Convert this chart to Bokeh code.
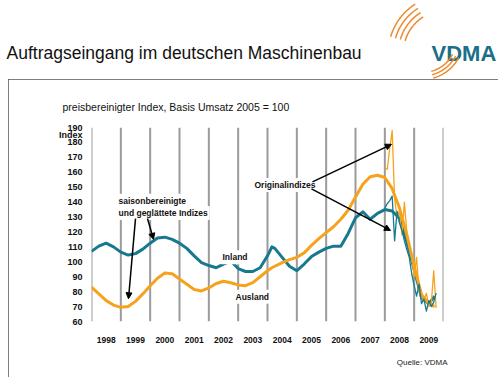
import numpy as np
from bokeh.plotting import figure
from bokeh.layouts import column, row
from bokeh.models import (Range1d, Label, Arrow, NormalHead, FixedTicker,
                          CustomJSTickFormatter, Title, Spacer)
from bokeh.core.properties import value
from bokeh.embed import file_html
from bokeh.resources import INLINE

# ---------------- data ----------------
years = [1998, 1999, 2000, 2001, 2002, 2003, 2004, 2005, 2006, 2007, 2008, 2009]
year_lines = years + [2010]

smooth_x = [1998.0, 1998.25, 1998.5, 1998.75, 1999.0, 1999.25, 1999.5, 1999.75,
            2000.0, 2000.25, 2000.5, 2000.75, 2001.0, 2001.25, 2001.5, 2001.75,
            2002.0, 2002.25, 2002.5, 2002.75, 2003.0, 2003.25, 2003.5, 2003.75,
            2004.0, 2004.15, 2004.25, 2004.5, 2004.75, 2005.0, 2005.25, 2005.5,
            2005.75, 2006.0, 2006.25, 2006.5, 2006.75, 2007.0, 2007.25, 2007.5,
            2007.75, 2008.0, 2008.25, 2008.5, 2008.75, 2009.0, 2009.25, 2009.5,
            2009.7]
inland_smooth = [107, 110.5, 112.5, 110, 106.5, 104.5, 105.5, 108.5,
                 112.5, 116, 116.5, 115, 112.5, 109, 104, 99.5,
                 97.5, 96, 98.5, 100.5, 95.5, 93.5, 93.5, 96,
                 104, 110, 109, 103, 97, 94, 98.5, 103.5,
                 106.5, 109, 110.5, 110.5, 119, 129.5, 133.5, 128.5,
                 132.5, 135, 134, 129, 113, 95, 76, 72,
                 77]
ausland_smooth = [83, 78.5, 74, 71, 69.5, 70, 73.5, 78.5,
                  84, 89, 92.5, 92, 88.5, 85, 81.5, 80.5,
                  82.5, 85.5, 87, 86, 84.5, 84, 86, 90,
                  94, 96, 97, 99.5, 101.5, 103, 106, 111,
                  115.5, 119.5, 123.5, 128.5, 134.5, 143.5, 152, 157,
                  158, 156.5, 149, 136, 118, 97, 78, 72,
                  70]

orig_x = [2008.0, 2008.083, 2008.167, 2008.25, 2008.333, 2008.417, 2008.5,
          2008.583, 2008.667, 2008.75, 2008.833, 2008.917, 2009.0, 2009.083,
          2009.167, 2009.25, 2009.333, 2009.417, 2009.5, 2009.583, 2009.667,
          2009.75]
ausland_orig = [163, 162, 176, 188, 142, 130, 134, 118, 140, 120, 110, 103,
                90, 103, 80, 76, 74, 79, 70, 72, 94, 69]
inland_orig = [136, 139, 141, 144, 114, 134, 126, 121, 114, 108, 103, 92,
               84, 77, 85, 72, 75, 67, 74, 70, 73, 79]

y_ticks = [60, 70, 80, 90, 100, 110, 120, 130, 140, 150, 160, 170, 180, 190]
index_tick = 184.7
year_centers = [y + 0.5 for y in years]

title_text = "Auftragseingang im deutschen Maschinenbau"
subtitle_text = "preisbereinigter Index, Basis Umsatz 2005 = 100"
source_text = "Quelle: VDMA"

TEAL = "#17798e"
ORANGE = "#f5a31c"
GRID = "#9b9b9b"
FONT = "Liberation Sans"

# page-pixel -> data helpers for the chart annotations
def X(px):
    return 1998 + (px - 91) / 29.333

def Y(py):
    return 190 - (py - 127) / 1.50769

# ---------------- header (title + logo) ----------------
h = figure(width=498, height=79, output_backend="svg", toolbar_location=None,
           x_range=Range1d(0, 498), y_range=Range1d(79, 0),
           min_border=0, x_axis_type=None, y_axis_type=None)
h.grid.visible = False
h.outline_line_color = None
h.text(x=[6], y=[52], text=[title_text], text_font=value(FONT),
       text_font_size="17.5px", text_baseline="alphabetic", text_color="#111111")
h.text(x=[431], y=[53], text=["VDMA"], text_font=value(FONT),
       text_font_size="22px", text_font_style="bold", text_baseline="alphabetic",
       text_color="#1b6f88")
LOGO_OR = "#ee8a2e"
arc_xs, arc_ys = [], []
for r in (42, 47, 52, 57):
    th = np.radians(np.linspace(16, 58, 24))
    arc_xs.append(list(445 - r * np.cos(th)))
    arc_ys.append(list(52 - r * np.sin(th)))
for r in (34, 37.5, 41):
    th = np.radians(np.linspace(28, 75, 18))
    arc_xs.append(list(422 + r * np.cos(th)))
    arc_ys.append(list(38 + r * np.sin(th)))
h.multi_line(arc_xs, arc_ys, line_color=LOGO_OR, line_width=1.5)

# ---------------- chart ----------------
p = figure(width=490, height=298, output_backend="svg", toolbar_location=None,
           x_range=Range1d(1998, 2010), y_range=Range1d(60, 190),
           min_border_left=83, min_border_right=55, min_border_top=48,
           min_border_bottom=54,
           styles={"outline": "2px solid #555555", "outline-offset": "-2px"})
p.xgrid.visible = False
p.ygrid.visible = False
p.outline_line_color = None

p.xaxis.ticker = FixedTicker(ticks=year_centers)
p.xaxis.formatter = CustomJSTickFormatter(code="return String(Math.floor(tick));")
p.yaxis.ticker = FixedTicker(ticks=y_ticks + [index_tick])
p.yaxis.formatter = CustomJSTickFormatter(
    args=dict(idx=index_tick),
    code="return Math.abs(tick - idx) < 0.01 ? 'Index' : String(tick);")
for ax in (p.xaxis[0], p.yaxis[0]):
    ax.axis_line_color = None
    ax.major_tick_line_color = None
    ax.minor_tick_line_color = None
    ax.major_label_text_font = FONT
    ax.major_label_text_font_style = "bold"
    ax.major_label_text_color = "#111111"
p.xaxis.major_label_text_font_size = "8.5px"
p.yaxis.major_label_text_font_size = "9px"
p.xaxis.major_label_standoff = 9
p.yaxis.major_label_standoff = 3

p.add_layout(Title(text=subtitle_text, align="left", text_font=FONT,
                   text_font_size="10.5px", text_font_style="normal",
                   text_color="#111111", standoff=29, offset=-29), "above")
p.add_layout(Title(text=source_text, align="right", text_font=FONT,
                   text_font_size="8px", text_font_style="normal",
                   text_color="#222222", standoff=21, offset=-4), "below")

# vertical year lines
p.segment(x0=year_lines, y0=[60] * len(year_lines), x1=year_lines,
          y1=[190] * len(year_lines), line_color=GRID, line_width=2)

# smoothed series
p.line(smooth_x, inland_smooth, line_color=TEAL, line_width=3, line_join="round")
p.line(smooth_x, ausland_smooth, line_color=ORANGE, line_width=3, line_join="round")
# original series
p.line(orig_x, ausland_orig, line_color=ORANGE, line_width=1.3, line_join="round")
p.line(orig_x, inland_orig, line_color=TEAL, line_width=1.3, line_join="round")

def lab(text, px, py, size="8.5px", style="bold", bg="white"):
    p.add_layout(Label(x=X(px), y=Y(py), text=text, text_font=FONT,
                       text_font_size=size, text_font_style=style,
                       text_align="left", text_baseline="alphabetic",
                       text_color="#111111", background_fill_color=bg,
                       padding=2))

lab("saisonbereinigte", 116, 201)
lab("und geglättete Indizes", 116, 213.5)
lab("Inland", 220, 258)
lab("Ausland", 233, 298)
lab("Originalindizes", 252, 185)

def arr(x0, y0, x1, y1):
    p.add_layout(Arrow(end=NormalHead(size=6, fill_color="black",
                                      line_color="black"),
                       x_start=X(x0), y_start=Y(y0), x_end=X(x1), y_end=Y(y1),
                       line_color="black", line_width=1.5))

arr(135, 219, 128, 300)
arr(147, 219, 153, 240)
arr(312, 182, 391, 144)
arr(311, 189, 390, 231)

layout = column(h, row(Spacer(width=8, height=298), p))
open("out.html", "w").write(file_html(layout, INLINE))
